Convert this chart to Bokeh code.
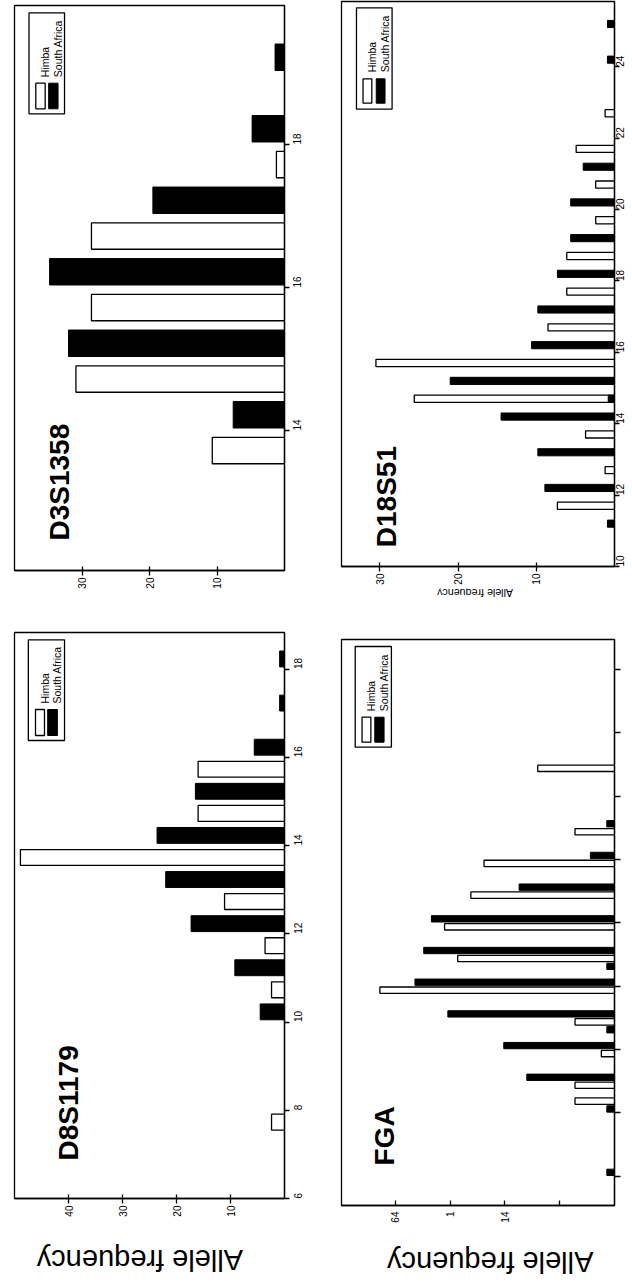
import math
from bokeh.plotting import figure
from bokeh.layouts import row, column
from bokeh.models import Range1d, FixedTicker, Label, ColumnDataSource, CustomLabelingPolicy
from bokeh.embed import file_html
from bokeh.resources import INLINE
from bokeh.core.properties import value

# ---------------- data (allele frequency, %) ----------------
series_names = ["Himba", "South Africa"]

d3_title = "D3S1358"
d3_alleles_himba = ["14", "15", "16", "17", "18"]
d3_himba = [10.7, 30.9, 28.6, 28.6, 1.2]
d3_alleles_sa = ["14", "15", "16", "17", "18", "19"]
d3_sa = [7.6, 32.0, 34.8, 19.5, 4.8, 1.4]
d3_freq_ticks = [10, 20, 30]
d3_allele_ticks = [14, 16, 18]

d8_title = "D8S1179"
d8_alleles_himba = ["8", "11", "12", "13", "14", "15", "16"]
d8_himba = [2.4, 2.4, 3.6, 11.1, 48.9, 16.0, 16.0]
d8_alleles_sa = ["10", "11", "12", "13", "14", "15", "16", "17", "18"]
d8_sa = [4.5, 9.2, 17.3, 22.0, 23.6, 16.5, 5.6, 0.9, 0.9]
d8_freq_ticks = [10, 20, 30, 40]
d8_allele_ticks = [6, 8, 10, 12, 14, 16, 18]

d18_title = "D18S51"
d18_alleles_himba = ["12", "13", "14", "15", "16", "17", "18", "19", "20", "21", "22", "23"]
d18_himba = [7.3, 1.2, 3.7, 25.6, 30.5, 8.5, 6.1, 6.1, 2.4, 2.4, 4.9, 1.2]
d18_alleles_sa = ["11", "12", "13", "14", "14.2", "15", "16", "17", "18", "19", "20", "21", "24", "25"]
d18_sa = [0.9, 8.9, 9.8, 14.5, 0.8, 21.0, 10.6, 9.8, 7.3, 5.6, 5.6, 4.0, 0.9, 0.9]
d18_freq_ticks = [10, 20, 30]
d18_allele_ticks = [10, 12, 14, 16, 18, 20, 22, 24]

fga_title = "FGA"
fga_alleles_himba = ["18.2", "19", "20", "21", "22", "23", "24", "25", "26", "27", "29"]
fga_himba = [3.6, 3.6, 1.2, 3.6, 21.4, 14.3, 15.5, 13.1, 11.9, 3.6, 7.0]
fga_alleles_sa = ["16", "18", "19", "20", "20.2", "21", "22", "22.2", "23", "24", "25", "26", "27"]
fga_sa = [0.7, 0.7, 8.0, 10.1, 0.7, 15.2, 18.2, 0.7, 17.4, 16.7, 8.7, 2.2, 0.7]
fga_freq_ticks = [5, 10, 15, 20]
fga_freq_labels = ["", "14", "1", "64"]
fga_allele_ticks = [16, 18, 20, 22, 24, 26, 28, 30, 32]

axis_title = "Allele frequency"

FONT = "Liberation Sans"


def allele_pos(a):
    # x.2 variant alleles are drawn half-way between the integer alleles
    whole, _, frac = a.partition(".")
    return float(whole) + (0.5 if frac else 0.0)


def make_panel(g, title, ah, vh, asa, vsa, fticks, aticks, st, flabels=None):
    p = figure(width=g["W"], height=g["H"],
               x_range=Range1d(g["xmax"], 0), y_range=Range1d(g["ymin"], g["ymax"]),
               output_backend="svg", toolbar_location=None,
               x_axis_location="below", y_axis_location="right",
               min_border_left=g["fl"] - g["X"], min_border_right=g["X"] + g["W"] - g["fr"],
               min_border_top=g["ft"] - g["Y"], min_border_bottom=g["Y"] + g["H"] - g["fb"])
    p.grid.visible = False
    p.outline_line_color = "black"
    p.outline_line_width = 1.3
    p.outline_line_alpha = 1.0
    p.background_fill_color = "white"
    p.border_fill_color = "white"

    def X(px):
        return g["xmax"] * (g["fr"] - px) / (g["fr"] - g["fl"])

    def Y(py):
        return g["ymin"] + (g["fb"] - py) / (g["fb"] - g["ft"]) * (g["ymax"] - g["ymin"])

    # value axis (below)
    xa = p.xaxis[0]
    xa.ticker = FixedTicker(ticks=fticks)
    if flabels is not None:
        xa.major_label_overrides = {t: l for t, l in zip(fticks, flabels) if l}
        xa.major_label_policy = CustomLabelingPolicy(
            args=dict(keep=[i for i, l in enumerate(flabels) if l]),
            code="for (let i = 0; i < indices.size; i++) { if (!keep.includes(i)) indices.unset(i) } return indices")
    xa.minor_tick_line_color = None
    xa.major_tick_in = st["xtin"]
    xa.major_tick_out = st["xtout"]
    xa.major_tick_line_width = 1.3
    xa.axis_line_width = 1.3
    xa.major_label_orientation = math.pi / 2
    xa.major_label_standoff = st["xstand"]
    xa.major_label_text_font = FONT
    xa.major_label_text_font_size = "10px"
    xa.major_label_text_color = "black"

    # allele axis (right)
    ya = p.yaxis[0]
    ya.ticker = FixedTicker(ticks=aticks)
    ya.minor_tick_line_color = None
    ya.major_tick_in = 0
    ya.major_tick_out = st["ytout"]
    ya.major_tick_line_width = 1.3
    ya.axis_line_width = 1.3
    ya.major_label_orientation = math.pi / 2
    ya.major_label_standoff = st["ystand"]
    ya.major_label_text_font = FONT
    ya.major_label_text_font_size = "10px"
    ya.major_label_text_color = "black"
    if st.get("hide_ylabels"):
        # in the reference these labels fall outside the picture
        ya.major_label_policy = CustomLabelingPolicy(
            code="for (let i = 0; i < indices.size; i++) { indices.unset(i) } return indices")

    # bars
    sh = ColumnDataSource(dict(y=[allele_pos(a) + st["off_h"] for a in ah], v=vh))
    ss = ColumnDataSource(dict(y=[allele_pos(a) + st["off_s"] for a in asa], v=vsa))
    p.hbar(y="y", height=st["bh"], left=0, right="v", source=sh,
           fill_color="white", line_color="black", line_width=1.3)
    p.hbar(y="y", height=st["bh"], left=0, right="v", source=ss,
           fill_color="black", line_color="black", line_width=1.0)

    # legend (rotated like the rest of the figure)
    L = g["leg"]
    p.quad(left=[X(L["box"][0])], right=[X(L["box"][1])],
           top=[Y(L["box"][2])], bottom=[Y(L["box"][3])],
           fill_color="white", line_color="black", line_width=1.3)
    p.quad(left=[X(L["sw1"][0])], right=[X(L["sw1"][1])],
           top=[Y(L["sw"][0])], bottom=[Y(L["sw"][1])],
           fill_color="white", line_color="black", line_width=1.3)
    p.quad(left=[X(L["sw2"][0])], right=[X(L["sw2"][1])],
           top=[Y(L["sw"][0])], bottom=[Y(L["sw"][1])],
           fill_color="black", line_color="black", line_width=1.0)
    p.text(x=[X(L["tx"][0]), X(L["tx"][1])], y=[Y(L["ty"])] * 2, text=series_names,
           angle=math.pi / 2, text_font=value(FONT), text_font_size="10.5px",
           text_align="left", text_baseline="alphabetic", text_color="black")

    # marker name
    tx, ty = g["title"]
    p.add_layout(Label(x=X(tx), y=Y(ty), text=title, angle=math.pi / 2,
                       text_font=FONT, text_font_style="bold", text_font_size="28px",
                       text_align="left", text_baseline="alphabetic", text_color="black"))
    return p


def title_strip(W, H, cx, base, size):
    # strip under a panel carrying the upside-down "Allele frequency" title
    q = figure(width=W, height=H, x_range=Range1d(0, W), y_range=Range1d(H, 0),
               x_axis_type=None, y_axis_type=None, output_backend="svg",
               toolbar_location=None, min_border=0, outline_line_color=None)
    q.background_fill_color = "white"
    q.border_fill_color = "white"
    q.text(x=[cx], y=[base], text=[axis_title], angle=math.pi,
           text_font=value(FONT), text_font_size=size,
           text_align="center", text_baseline="alphabetic", text_color="black")
    return q


# page-pixel geometry of each panel (page origin at top-left)
gA = dict(X=0, Y=0, W=324, H=605, fl=14, fr=293, ft=5, fb=570,
          xmax=40.0, ymin=12.042, ymax=19.944,
          leg=dict(box=(29, 65.7, 12.3, 113.3), sw1=(36, 45.7), sw2=(49.3, 59), sw=(82.7, 108.3),
                   tx=(45.5, 59), ty=76.7),
          title=(61, 540))
gC = dict(X=0, Y=605, W=324, H=623, fl=5, fr=284, ft=632, fb=1198,
          xmax=50.0, ymin=5.999, ymax=18.83,
          leg=dict(box=(19.3, 56.7, 639.3, 740), sw1=(26.7, 36), sw2=(39.3, 49.3), sw=(709, 735),
                   tx=(36, 49.3), ty=703),
          title=(61, 1160))
gB = dict(X=324, Y=0, W=308, H=588, fl=335, fr=614, ft=1, fb=566,
          xmax=34.9, ymin=9.999, ymax=25.83,
          leg=dict(box=(350.3, 386.7, 7.3, 108.7), sw1=(357, 366), sw2=(370.5, 379.5), sw=(78.3, 102.7),
                   tx=(366, 379.5), ty=71.7),
          title=(381, 546.7))
gD = dict(X=324, Y=610, W=308, H=625, fl=341, fr=620, ft=639, fb=1205,
          xmax=24.9, ymin=15.08, ymax=32.94,
          leg=dict(box=(355, 392, 646, 746.7), sw1=(362, 371), sw2=(375, 384.5), sw=(716.7, 741.7),
                   tx=(371, 384.5), ty=710.7),
          title=(385.3, 1165))

st_d3 = dict(bh=0.37, off_h=-0.28, off_s=0.22, xtin=4, xtout=5, xstand=2,
             ytout=5, ystand=8)
st_d8 = dict(bh=0.36, off_h=-0.27, off_s=0.23, xtin=4, xtout=5, xstand=2,
             ytout=5, ystand=9)
st_d18 = dict(bh=0.2, off_h=-0.3, off_s=0.2, xtin=4, xtout=5, xstand=2,
              ytout=5, ystand=1)
st_fga = dict(bh=0.2, off_h=-0.126, off_s=0.126, xtin=5, xtout=0, xstand=6,
              ytout=6, ystand=0, hide_ylabels=True)

pA = make_panel(gA, d3_title, d3_alleles_himba, d3_himba, d3_alleles_sa, d3_sa,
                d3_freq_ticks, d3_allele_ticks, st_d3)
pC = make_panel(gC, d8_title, d8_alleles_himba, d8_himba, d8_alleles_sa, d8_sa,
                d8_freq_ticks, d8_allele_ticks, st_d8)
pB = make_panel(gB, d18_title, d18_alleles_himba, d18_himba, d18_alleles_sa, d18_sa,
                d18_freq_ticks, d18_allele_ticks, st_d18)
pD = make_panel(gD, fga_title, fga_alleles_himba, fga_himba, fga_alleles_sa, fga_sa,
                fga_freq_ticks, fga_allele_ticks, st_fga, flabels=fga_freq_labels)

# title strips: (width, height, centre x, baseline y) in strip pixels
sC = title_strip(324, 56, 150.5, 31, "29px")     # page y 1228..1284
sB = title_strip(308, 22, 150.7, 4, "10.7px")    # page y 588..610
sD = title_strip(308, 49, 167.8, 26, "29px")     # page y 1235..1284

layout = row(column(pA, pC, sC), column(pB, sB, pD, sD))

with open("out.html", "w") as f:
    f.write(file_html(layout, INLINE))
